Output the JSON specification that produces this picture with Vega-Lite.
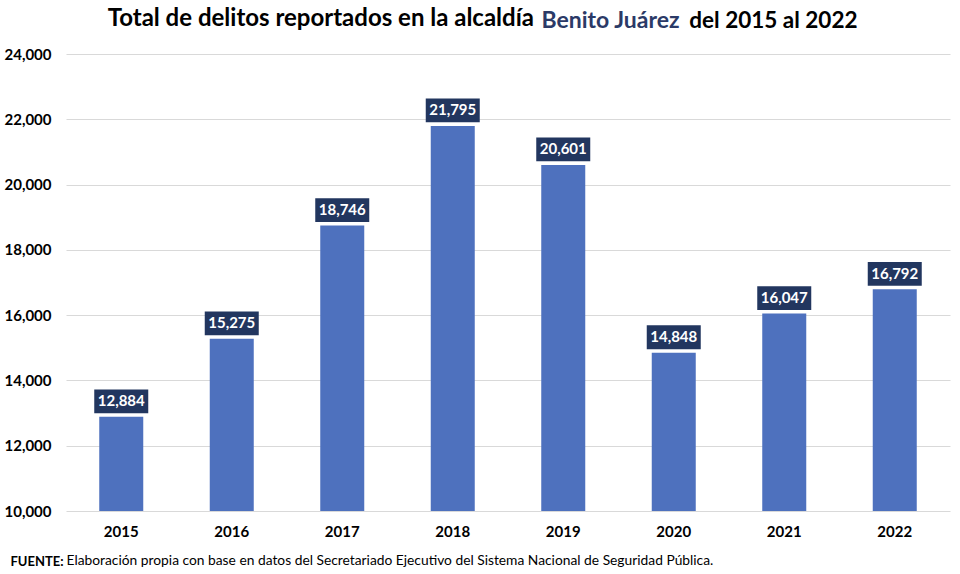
{
  "$schema": "https://vega.github.io/schema/vega-lite/v6.json",
  "width": 884,
  "height": 457,
  "autosize": {"type": "none"},
  "padding": {"left": 66, "top": 54, "right": 10, "bottom": 63},
  "background": "white",
  "config": {
    "font": "Lato",
    "view": {"stroke": null},
    "axis": {"titleFont": "Lato", "labelFont": "Lato"}
  },
  "title": {
    "text": "Total de delitos reportados en la alcaldía",
    "anchor": "end",
    "frame": "group",
    "dx": -416,
    "offset": -41,
    "baseline": "alphabetic",
    "font": "Lato",
    "fontSize": 24,
    "fontWeight": "bold",
    "color": "#000000"
  },
  "data": {
    "values": [
      {"year": "2015", "value": 12884},
      {"year": "2016", "value": 15275},
      {"year": "2017", "value": 18746},
      {"year": "2018", "value": 21795},
      {"year": "2019", "value": 20601},
      {"year": "2020", "value": 14848},
      {"year": "2021", "value": 16047},
      {"year": "2022", "value": 16792}
    ]
  },
  "resolve": {"axis": {"x": "independent", "y": "independent"}},
  "layer": [
    {
      "mark": {"type": "bar", "width": 44, "color": "#4E71BE", "clip": true},
      "encoding": {
        "x": {
          "field": "year", "type": "ordinal",
          "scale": {"paddingInner": 0, "paddingOuter": 0},
          "axis": {
            "orient": "bottom", "labelAngle": 0, "labelFontSize": 15, "labelFontWeight": "bold",
            "labelColor": "#000000", "labelPadding": 13, "ticks": false, "domain": false, "grid": false,
            "title": "FUENTE:", "titleFontSize": 13, "titleFontWeight": "bold", "titleColor": "#000000",
            "titleAngle": 0, "titleAlign": "left", "titleBaseline": "alphabetic", "titleX": -56, "titleY": 54
          }
        },
        "y": {
          "field": "value", "type": "quantitative",
          "scale": {"domain": [10000, 24000], "nice": false, "zero": false},
          "axis": {
            "orient": "left", "values": [10000, 12000, 14000, 16000, 18000, 20000, 22000, 24000],
            "labelExpr": "format(datum.value, ',')", "labelFontSize": 15, "labelFontWeight": "bold", "labelColor": "#000000",
            "labelPadding": 15, "ticks": false, "domain": false, "grid": true, "gridColor": "#D9D9D9", "gridWidth": 1,
            "title": "Benito Juárez", "titleFontSize": 23, "titleFontWeight": "bold", "titleColor": "#2B3A67",
            "titleAngle": 0, "titleAlign": "left", "titleBaseline": "alphabetic", "titleX": 475, "titleY": -27
          }
        }
      }
    },
    {
      "mark": {"type": "point", "shape": "M-1,-0.44L1,-0.44L1,0.44L-1,0.44Z", "size": 2916, "filled": true, "opacity": 1, "color": "#22365F", "yOffset": -15.5},
      "encoding": {
        "x": {
          "field": "year", "type": "ordinal",
          "axis": {
            "orient": "top", "labels": false, "ticks": false, "domain": false, "grid": false,
            "title": "Elaboración propia con base en datos del Secretariado Ejecutivo del Sistema Nacional de Seguridad Pública.",
            "titleFontSize": 13.8, "titleFontWeight": "normal", "titleColor": "#000000",
            "titleAngle": 0, "titleAlign": "left", "titleBaseline": "alphabetic", "titleX": 0, "titleY": 510
          }
        },
        "y": {
          "field": "value", "type": "quantitative",
          "axis": {
            "orient": "right", "labels": false, "ticks": false, "domain": false, "grid": false,
            "title": "del 2015 al 2022", "titleFontSize": 22.5, "titleFontWeight": "bold", "titleColor": "#000000",
            "titleAngle": 0, "titleAlign": "right", "titleBaseline": "alphabetic", "titleX": -93, "titleY": -27
          }
        }
      }
    },
    {
      "mark": {"type": "text", "color": "#FFFFFF", "fontSize": 15, "fontWeight": "bold", "font": "Lato", "baseline": "middle", "yOffset": -15.5},
      "encoding": {
        "x": {"field": "year", "type": "ordinal", "axis": null},
        "y": {"field": "value", "type": "quantitative", "axis": null},
        "text": {"field": "value", "type": "quantitative", "format": ","}
      }
    }
  ]
}
